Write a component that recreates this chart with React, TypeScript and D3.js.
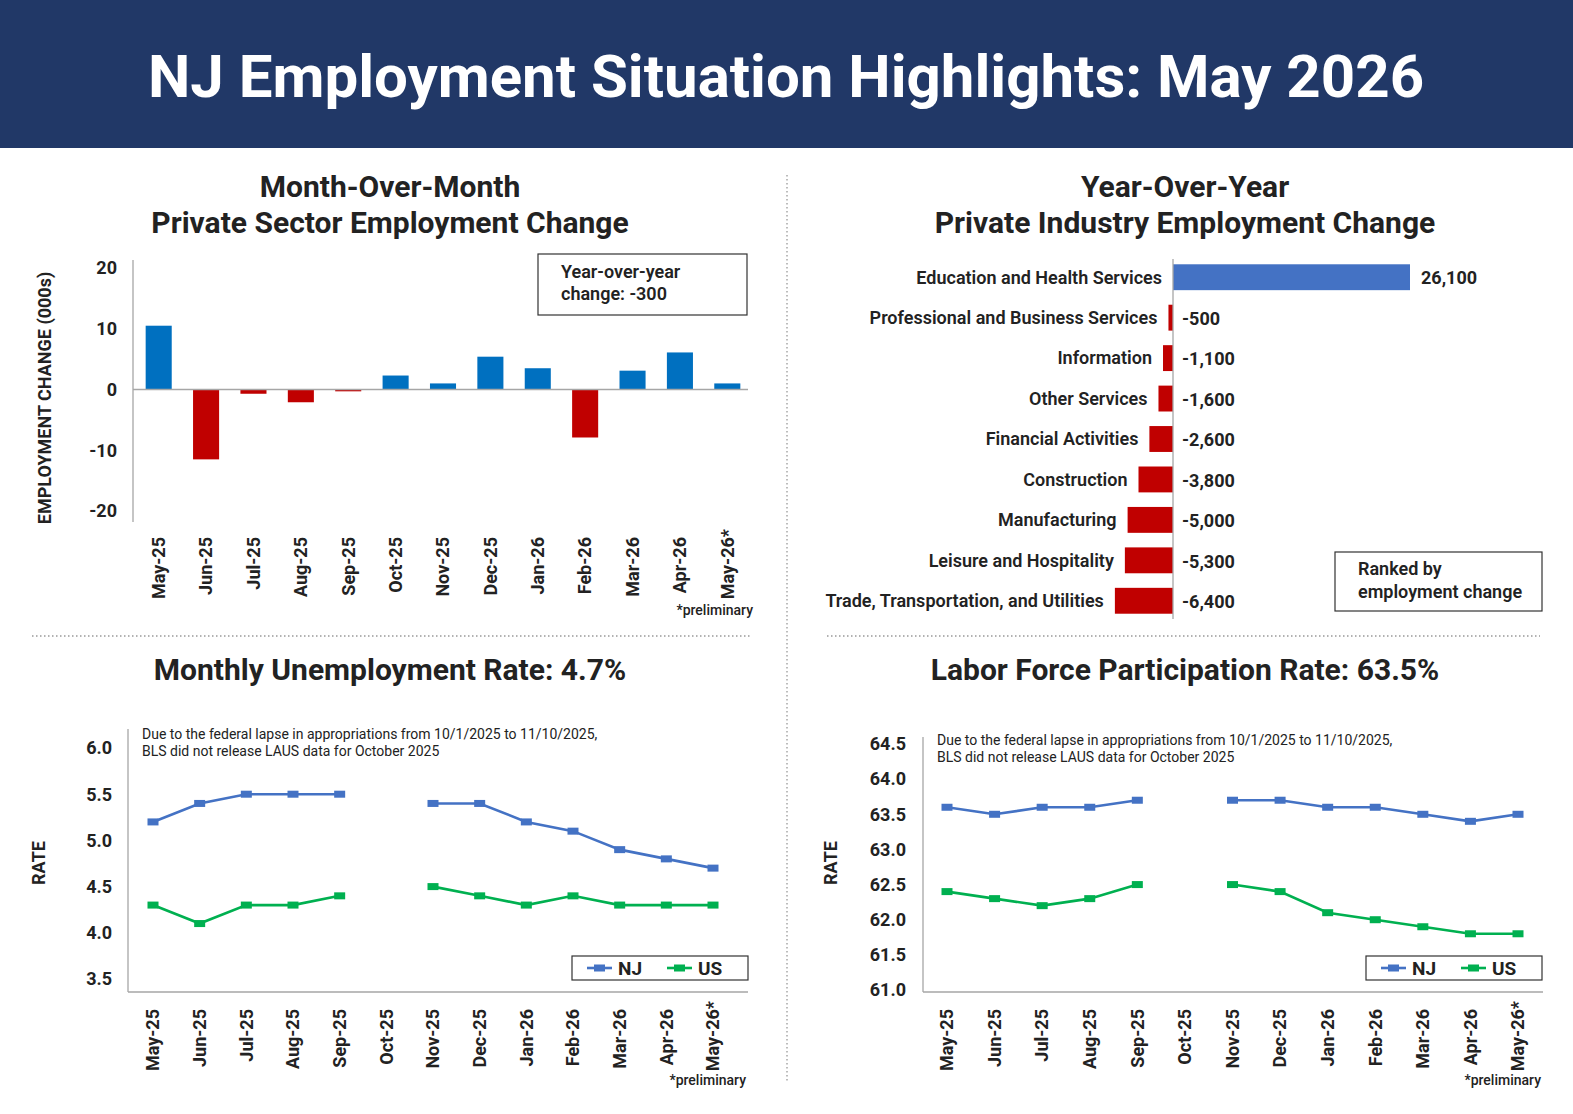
import React from 'react';
import * as d3 from 'd3';

const months = ["May-25","Jun-25","Jul-25","Aug-25","Sep-25","Oct-25","Nov-25","Dec-25","Jan-26","Feb-26","Mar-26","Apr-26","May-26*"];
const momChange = [10.5,-11.5,-0.7,-2.1,-0.3,2.3,1.0,5.4,3.5,-7.9,3.1,6.1,1.0];
const momTicks = [20,10,0,-10,-20];

const industries = ["Education and Health Services","Professional and Business Services","Information","Other Services","Financial Activities","Construction","Manufacturing","Leisure and Hospitality","Trade, Transportation, and Utilities"];
const industryChange = [26100,-500,-1100,-1600,-2600,-3800,-5000,-5300,-6400];

const njUnemp = [5.2,5.4,5.5,5.5,5.5,null,5.4,5.4,5.2,5.1,4.9,4.8,4.7];
const usUnemp = [4.3,4.1,4.3,4.3,4.4,null,4.5,4.4,4.3,4.4,4.3,4.3,4.3];
const unempTicks = [3.5,4.0,4.5,5.0,5.5,6.0];

const njLfpr = [63.6,63.5,63.6,63.6,63.7,null,63.7,63.7,63.6,63.6,63.5,63.4,63.5];
const usLfpr = [62.4,62.3,62.2,62.3,62.5,null,62.5,62.4,62.1,62.0,61.9,61.8,61.8];
const lfprTicks = [61.0,61.5,62.0,62.5,63.0,63.5,64.0,64.5];

const FONT = "Roboto, 'Noto Sans', sans-serif";
const TXT = "#222222";
const NAVY = "#213867";
const BLUE_BAR = "#0070C0";
const BLUE_IND = "#4472C4";
const RED = "#C00000";
const NJ_COL = "#4472C4";
const US_COL = "#00B050";
const AXIS = "#A6A6A6";
const fmt = (v: number) => d3.format(",")(v).replace("\u2212", "-");
const starShift = (m: string) => (m.endsWith("*") ? 8 : 0);

function MomChart() {
  const x = d3.scaleBand().domain(months).range([135, 751]).padding(0);
  const y = d3.scaleLinear().domain([-20, 20]).range([511, 268]);
  const bw = x.bandwidth() * 0.55;
  return (
    <g>
      <text x={390} y={197} textAnchor="middle" fontSize={30} fontWeight={700} fill={TXT}>Month-Over-Month</text>
      <text x={390} y={233} textAnchor="middle" fontSize={30} fontWeight={700} fill={TXT}>Private Sector Employment Change</text>
      <text transform={`translate(51,${398}) rotate(-90)`} textAnchor="middle" fontSize={18} fontWeight={700} fill={TXT}>EMPLOYMENT CHANGE (000s)</text>
      {momTicks.map(t => (
        <text key={t} x={117} y={y(t)} dy="0.35em" textAnchor="end" fontSize={18} fontWeight={700} fill={TXT}>{t}</text>
      ))}
      {months.map((m, i) => {
        const v = momChange[i];
        const cx = (x(m) as number) + x.bandwidth() / 2;
        return (
          <rect key={m} x={cx - bw / 2} y={Math.min(y(v), y(0))} width={bw} height={Math.abs(y(v) - y(0))} fill={v >= 0 ? BLUE_BAR : RED} />
        );
      })}
      <line x1={133} x2={133} y1={260} y2={522} stroke={AXIS} strokeWidth={1.3} />
      <line x1={133} x2={748} y1={y(0)} y2={y(0)} stroke={AXIS} strokeWidth={1.3} />
      {months.map(m => {
        const cx = (x(m) as number) + x.bandwidth() / 2;
        return (
          <text key={m} transform={`translate(${cx},${537 - starShift(m)}) rotate(-90)`} dy="0.35em" textAnchor="end" fontSize={18} fontWeight={700} fill={TXT}>{m}</text>
        );
      })}
      <text x={753} y={615} textAnchor="end" fontSize={14} fontWeight={500} fill={TXT}>*preliminary</text>
      <rect x={538} y={254} width={209} height={61} fill="#fff" stroke="#333" strokeWidth={1.2} />
      <text x={561} y={278} fontSize={18} fontWeight={600} fill={TXT}>Year-over-year</text>
      <text x={561} y={300} fontSize={18} fontWeight={600} fill={TXT}>change: -300</text>
    </g>
  );
}

function IndustryChart() {
  const y = d3.scaleBand().domain(industries).range([257, 621]).paddingInner(0.36).paddingOuter(0.18);
  const x = d3.scaleLinear().domain([0, 26100]).range([1173, 1410]);
  return (
    <g>
      <text x={1185} y={197} textAnchor="middle" fontSize={30} fontWeight={700} fill={TXT}>Year-Over-Year</text>
      <text x={1185} y={233} textAnchor="middle" fontSize={30} fontWeight={700} fill={TXT}>Private Industry Employment Change</text>
      {industries.map((c, i) => {
        const v = industryChange[i];
        const yy = y(c) as number;
        const cy = yy + y.bandwidth() / 2;
        return (
          <g key={c}>
            <rect x={Math.min(x(v), x(0))} y={yy} width={Math.abs(x(v) - x(0))} height={y.bandwidth()} fill={v >= 0 ? BLUE_IND : RED} />
            <text x={Math.min(x(v), x(0)) - 11} y={cy} dy="0.35em" textAnchor="end" fontSize={18} fontWeight={600} fill={TXT}>{c}</text>
            <text x={v >= 0 ? x(v) + 11 : x(0) + 9} y={cy} dy="0.4em" textAnchor="start" fontSize={18} fontWeight={700} fill={TXT}>{fmt(v)}</text>
          </g>
        );
      })}
      <line x1={1173} x2={1173} y1={259} y2={619} stroke={AXIS} strokeWidth={1.3} />
      <rect x={1335} y={552} width={207} height={59} fill="#fff" stroke="#333" strokeWidth={1.2} />
      <text x={1358} y={575} fontSize={18} fontWeight={600} fill={TXT}>Ranked by</text>
      <text x={1358} y={598} fontSize={18} fontWeight={600} fill={TXT}>employment change</text>
    </g>
  );
}

type LineProps = {
  title: string; tx: number; nj: (number|null)[]; us: (number|null)[]; ticks: number[];
  yDomain: [number, number]; yRange: [number, number]; xRange: [number, number];
  axisX: number; axisTop: number; axisRight: number; tickX: number; rateX: number;
  noteX: number; noteY: number; legX: number; prelimX: number;
};

function LineChart(p: LineProps) {
  const x = d3.scalePoint().domain(months).range(p.xRange);
  const y = d3.scaleLinear().domain(p.yDomain).range(p.yRange);
  const line = d3.line<number|null>()
    .defined(d => d !== null)
    .x((_, i) => x(months[i]) as number)
    .y(d => y(d as number));
  const series = [{ name: "NJ", data: p.nj, col: NJ_COL }, { name: "US", data: p.us, col: US_COL }];
  return (
    <g>
      <text x={p.tx} y={680} textAnchor="middle" fontSize={30} fontWeight={700} fill={TXT}>{p.title}</text>
      <text transform={`translate(${p.rateX},863) rotate(-90)`} textAnchor="middle" fontSize={18} fontWeight={700} fill={TXT}>RATE</text>
      {p.ticks.map(t => (
        <text key={t} x={p.tickX} y={y(t)} dy="0.35em" textAnchor="end" fontSize={18} fontWeight={700} fill={TXT}>{t.toFixed(1)}</text>
      ))}
      <line x1={p.axisX} x2={p.axisX} y1={p.axisTop} y2={992} stroke={AXIS} strokeWidth={1.3} />
      <line x1={p.axisX} x2={p.axisRight} y1={992} y2={992} stroke={AXIS} strokeWidth={1.3} />
      <text x={p.noteX} y={p.noteY} fontSize={14} fill={TXT}>Due to the federal lapse in appropriations from 10/1/2025 to 11/10/2025,</text>
      <text x={p.noteX} y={p.noteY + 16.5} fontSize={14} fill={TXT}>BLS did not release LAUS data for October 2025</text>
      {series.map(s => (
        <g key={s.name}>
          <path d={line(s.data) || ""} fill="none" stroke={s.col} strokeWidth={2.6} />
          {s.data.map((d, i) => d === null ? null : (
            <rect key={i} x={(x(months[i]) as number) - 5.5} y={y(d) - 3.5} width={11} height={7} fill={s.col} />
          ))}
        </g>
      ))}
      {months.map(m => (
        <text key={m} transform={`translate(${x(m)},${1009 - starShift(m)}) rotate(-90)`} dy="0.35em" textAnchor="end" fontSize={18} fontWeight={700} fill={TXT}>{m}</text>
      ))}
      <text x={p.prelimX} y={1085} textAnchor="end" fontSize={14} fontWeight={500} fill={TXT}>*preliminary</text>
      <g transform={`translate(${p.legX},956)`}>
        <rect x={0} y={0} width={176} height={24} fill="#fff" stroke="#333" strokeWidth={1.2} />
        <line x1={15} x2={40} y1={12} y2={12} stroke={NJ_COL} strokeWidth={2.6} />
        <rect x={22} y={8.5} width={11} height={7} fill={NJ_COL} />
        <text x={46} y={12} dy="0.36em" fontSize={19} fontWeight={700} fill={TXT}>NJ</text>
        <line x1={95} x2={120} y1={12} y2={12} stroke={US_COL} strokeWidth={2.6} />
        <rect x={102} y={8.5} width={11} height={7} fill={US_COL} />
        <text x={126} y={12} dy="0.36em" fontSize={19} fontWeight={700} fill={TXT}>US</text>
      </g>
    </g>
  );
}

export default function App() {
  return (
    <svg width={1573} height={1114} style={{ position: "absolute", left: 0, top: 0, background: "#fff" }} fontFamily={FONT}>
      <rect x={0} y={0} width={1573} height={1114} fill="#fff" />
      <rect x={0} y={0} width={1573} height={148} fill={NAVY} />
      <text x={786} y={97} textAnchor="middle" fontSize={60} fontWeight={700} fill="#fff">NJ Employment Situation Highlights: May 2026</text>
      <line x1={787} x2={787} y1={175} y2={1082} stroke="#999" strokeWidth={1.3} strokeDasharray="1.5,2.5" />
      <line x1={32} x2={750} y1={636} y2={636} stroke="#999" strokeWidth={1.3} strokeDasharray="1.5,2.5" />
      <line x1={827} x2={1540} y1={636} y2={636} stroke="#999" strokeWidth={1.3} strokeDasharray="1.5,2.5" />
      <MomChart />
      <IndustryChart />
      <LineChart title="Monthly Unemployment Rate: 4.7%" tx={390} nj={njUnemp} us={usUnemp} ticks={unempTicks}
        yDomain={[3.5, 6.0]} yRange={[979, 748]} xRange={[153, 713]} axisX={128} axisTop={729} axisRight={748}
        tickX={112} rateX={45} noteX={142} noteY={739} legX={572} prelimX={746} />
      <LineChart title="Labor Force Participation Rate: 63.5%" tx={1185} nj={njLfpr} us={usLfpr} ticks={lfprTicks}
        yDomain={[61.0, 64.5]} yRange={[990, 744]} xRange={[947, 1518]} axisX={923} axisTop={737} axisRight={1543}
        tickX={906} rateX={837} noteX={937} noteY={745} legX={1366} prelimX={1541} />
    </svg>
  );
}
